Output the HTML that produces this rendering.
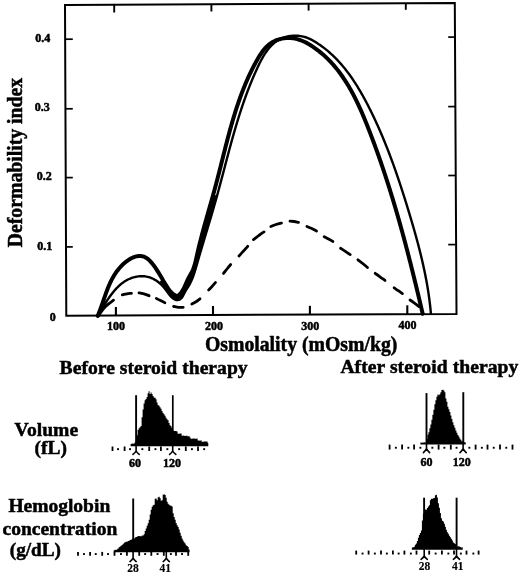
<!DOCTYPE html>
<html><head><meta charset="utf-8"><style>
html,body{margin:0;padding:0;background:#fff;}
body{width:520px;height:574px;overflow:hidden;}
svg{display:block;}
text{font-family:"Liberation Serif", serif;font-weight:bold;fill:#000;stroke:#000;stroke-width:0.5px;}
text.sm{stroke-width:0.15px;}
#wrap{will-change:transform;width:520px;height:574px;}
</style></head><body>
<div id="wrap"><svg width="520" height="574" viewBox="0 0 520 574">
<rect width="520" height="574" fill="#fff"/>
<path d="M65,4.9 L454.8,3 L456.5,313.9 L66.3,315.7 Z" fill="none" stroke="#000" stroke-width="2"/>
<line x1="114.2" y1="4.0" x2="114.2" y2="12.5" stroke="#000" stroke-width="1.9"/>
<line x1="211.4" y1="4.0" x2="211.4" y2="11.5" stroke="#000" stroke-width="1.9"/>
<line x1="308.6" y1="4.0" x2="308.6" y2="10.6" stroke="#000" stroke-width="1.9"/>
<line x1="405.8" y1="4.0" x2="405.8" y2="9.8" stroke="#000" stroke-width="1.9"/>
<line x1="115.9" y1="307.0" x2="115.9" y2="315.0" stroke="#000" stroke-width="2.1"/>
<line x1="213.0" y1="306.0" x2="213.0" y2="315.0" stroke="#000" stroke-width="2.1"/>
<line x1="309.9" y1="305.8" x2="309.9" y2="315.0" stroke="#000" stroke-width="2.1"/>
<line x1="407.3" y1="305.3" x2="407.3" y2="315.0" stroke="#000" stroke-width="2.1"/>
<line x1="65" y1="39.2" x2="72.8" y2="39.2" stroke="#000" stroke-width="1.7"/>
<line x1="65" y1="108.8" x2="72.8" y2="108.8" stroke="#000" stroke-width="1.7"/>
<line x1="65" y1="177.6" x2="72.8" y2="177.6" stroke="#000" stroke-width="1.7"/>
<line x1="65" y1="246.9" x2="72.8" y2="246.9" stroke="#000" stroke-width="1.7"/>
<line x1="448.2" y1="37.1" x2="455.5" y2="37.1" stroke="#000" stroke-width="1.7"/>
<line x1="448.2" y1="106.6" x2="455.5" y2="106.6" stroke="#000" stroke-width="1.7"/>
<line x1="448.2" y1="175.5" x2="455.5" y2="175.5" stroke="#000" stroke-width="1.7"/>
<line x1="448.2" y1="244.6" x2="455.5" y2="244.6" stroke="#000" stroke-width="1.7"/>
<path d="M97.91,315.66 L98.47,314.73 L99.03,313.78 L99.61,312.82 L100.19,311.84 L100.78,310.85 L101.37,309.84 L101.98,308.82 L102.59,307.79 L103.22,306.75 L103.85,305.71 L104.49,304.66 L105.15,303.60 L105.81,302.55 L106.48,301.49 L107.17,300.43 L107.87,299.38 L108.58,298.33 L109.30,297.29 L110.03,296.25 L110.78,295.23 L111.54,294.21 L112.32,293.20 L113.11,292.21 L113.91,291.24 L114.73,290.28 L115.57,289.34 L116.42,288.42 L117.28,287.52 L118.17,286.65 L119.07,285.80 L119.98,284.98 L120.92,284.18 L121.87,283.41 L122.84,282.68 L123.83,281.98 L124.84,281.31 L125.87,280.68 L126.92,280.08 L127.99,279.53 L129.07,279.01 L130.18,278.54 L131.29,278.10 L132.42,277.71 L133.56,277.36 L134.71,277.06 L135.87,276.80 L137.04,276.58 L138.21,276.41 L139.38,276.29 L140.55,276.22 L141.73,276.19 L142.90,276.22 L144.07,276.29 L145.23,276.41 L146.38,276.59 L147.53,276.82 L148.66,277.10 L149.79,277.44 L150.90,277.83 L151.99,278.28 L153.07,278.78 L154.13,279.34 L155.18,279.94 L156.20,280.59 L157.21,281.29 L158.19,282.03 L159.16,282.81 L160.10,283.62 L161.03,284.47 L161.93,285.35 L162.81,286.26 L163.66,287.20 L164.50,288.16 L165.30,289.14 L166.08,290.14 L166.84,291.16 L167.57,292.18 L168.30,293.20 L169.04,294.21 L169.79,295.19 L170.57,296.13 L171.39,297.02 L172.27,297.84 L173.22,298.58 L174.23,299.23 L175.31,299.72 L176.42,300.02 L177.54,300.09 L178.63,299.93 L179.66,299.56 L180.59,298.97 L181.42,298.18 L182.16,297.23 L182.84,296.17 L183.47,295.02 L184.07,293.83 L184.66,292.64 L185.26,291.48 L185.89,290.38 L186.53,289.33 L187.18,288.33 L187.82,287.33 L188.45,286.34 L189.05,285.34 L189.62,284.31 L190.17,283.27 L190.70,282.21 L191.21,281.14 L191.69,280.05 L192.15,278.95 L192.60,277.83 L193.03,276.71 L193.45,275.57 L193.85,274.42 L194.23,273.27 L194.61,272.10 L194.98,270.93 L195.34,269.76 L195.69,268.58 L196.04,267.39 L196.38,266.21 L196.72,265.02 L197.06,263.83 L197.40,262.64 L197.74,261.45 L198.08,260.26 L198.42,259.07 L198.77,257.89 L199.11,256.70 L199.45,255.52 L199.80,254.33 L200.15,253.15 L200.49,251.97 L200.84,250.79 L201.19,249.61 L201.54,248.43 L201.89,247.25 L202.24,246.07 L202.59,244.89 L202.94,243.71 L203.30,242.54 L203.65,241.36 L204.00,240.18 L204.35,239.01 L204.70,237.83 L205.06,236.66 L205.41,235.49 L205.76,234.31 L206.12,233.14 L206.47,231.97 L206.82,230.79 L207.17,229.62 L207.53,228.45 L207.88,227.28 L208.23,226.11 L208.58,224.93 L208.93,223.76 L209.28,222.59 L209.63,221.42 L209.98,220.25 L210.33,219.08 L210.67,217.91 L211.02,216.74 L211.37,215.57 L211.71,214.40 L212.06,213.23 L212.40,212.06 L212.74,210.89 L213.08,209.72 L213.42,208.55 L213.76,207.38 L214.10,206.21 L214.44,205.04 L214.77,203.86 L215.11,202.69 L215.44,201.52 L215.77,200.35 L216.10,199.18 L216.43,198.00 L216.75,196.83 L217.08,195.66 L217.40,194.48 L217.72,193.31 L218.05,192.14 L218.37,190.96 L218.68,189.79 L219.00,188.61 L219.32,187.44 L219.64,186.26 L219.95,185.09 L220.27,183.91 L220.58,182.74 L220.89,181.56 L221.21,180.39 L221.52,179.21 L221.83,178.04 L222.14,176.86 L222.45,175.68 L222.76,174.51 L223.07,173.33 L223.38,172.16 L223.69,170.98 L224.00,169.80 L224.31,168.63 L224.62,167.45 L224.93,166.28 L225.24,165.10 L225.55,163.92 L225.85,162.75 L226.17,161.57 L226.48,160.40 L226.79,159.22 L227.10,158.05 L227.41,156.87 L227.72,155.70 L228.03,154.52 L228.35,153.35 L228.66,152.17 L228.98,151.00 L229.29,149.82 L229.61,148.65 L229.93,147.47 L230.25,146.30 L230.57,145.13 L230.89,143.96 L231.21,142.78 L231.53,141.61 L231.86,140.44 L232.19,139.27 L232.51,138.09 L232.84,136.92 L233.17,135.75 L233.51,134.58 L233.84,133.41 L234.18,132.24 L234.51,131.07 L234.85,129.90 L235.19,128.74 L235.54,127.57 L235.88,126.40 L236.23,125.23 L236.58,124.07 L236.93,122.90 L237.28,121.74 L237.64,120.57 L238.00,119.41 L238.36,118.24 L238.72,117.08 L239.08,115.92 L239.45,114.75 L239.82,113.59 L240.20,112.43 L240.57,111.27 L240.95,110.11 L241.33,108.95 L241.72,107.79 L242.11,106.64 L242.50,105.48 L242.89,104.32 L243.29,103.17 L243.69,102.01 L244.09,100.86 L244.50,99.70 L244.91,98.55 L245.32,97.40 L245.74,96.25 L246.16,95.10 L246.58,93.95 L247.01,92.80 L247.44,91.65 L247.88,90.50 L248.31,89.36 L248.76,88.21 L249.20,87.07 L249.65,85.92 L250.11,84.78 L250.57,83.64 L251.03,82.50 L251.50,81.36 L251.97,80.22 L252.44,79.08 L252.92,77.94 L253.41,76.80 L253.90,75.67 L254.39,74.54 L254.89,73.40 L255.39,72.27 L255.90,71.14 L256.41,70.01 L256.93,68.88 L257.45,67.75 L257.98,66.63 L258.52,65.50 L259.06,64.38 L259.60,63.27 L260.16,62.17 L260.73,61.07 L261.30,59.98 L261.89,58.90 L262.49,57.83 L263.09,56.77 L263.71,55.72 L264.35,54.69 L265.00,53.68 L265.66,52.68 L266.34,51.70 L267.03,50.73 L267.74,49.79 L268.47,48.87 L269.21,47.97 L269.97,47.09 L270.76,46.23 L271.56,45.40 L272.38,44.60 L273.23,43.83 L274.09,43.08 L274.98,42.36 L275.90,41.67 L276.83,41.02 L277.80,40.40 L278.78,39.81 L279.80,39.25 L280.84,38.73 L281.90,38.25 L283.00,37.81 L284.12,37.41 L285.28,37.05 L286.46,36.72 L287.68,36.45 L288.92,36.21 L290.18,36.02 L291.46,35.87 L292.75,35.76 L294.06,35.70 L295.37,35.69 L296.68,35.72 L298.00,35.80 L299.30,35.92 L300.60,36.09 L301.88,36.31 L303.15,36.57 L304.40,36.88 L305.62,37.25 L306.81,37.66 L307.98,38.11 L309.12,38.60 L310.25,39.13 L311.35,39.68 L312.44,40.27 L313.51,40.88 L314.57,41.50 L315.62,42.14 L316.66,42.79 L317.68,43.46 L318.70,44.13 L319.71,44.81 L320.70,45.51 L321.69,46.22 L322.67,46.93 L323.63,47.66 L324.59,48.40 L325.54,49.15 L326.48,49.90 L327.41,50.67 L328.33,51.45 L329.24,52.23 L330.15,53.03 L331.04,53.83 L331.93,54.65 L332.80,55.47 L333.67,56.30 L334.53,57.14 L335.38,57.99 L336.22,58.85 L337.06,59.71 L337.89,60.59 L338.70,61.47 L339.51,62.36 L340.32,63.26 L341.11,64.16 L341.90,65.07 L342.68,65.99 L343.45,66.92 L344.22,67.85 L344.98,68.79 L345.73,69.74 L346.47,70.69 L347.21,71.65 L347.94,72.62 L348.66,73.59 L349.38,74.57 L350.09,75.55 L350.80,76.54 L351.49,77.54 L352.18,78.54 L352.87,79.54 L353.55,80.56 L354.22,81.57 L354.89,82.59 L355.55,83.62 L356.21,84.65 L356.86,85.68 L357.50,86.72 L358.14,87.77 L358.77,88.81 L359.40,89.86 L360.02,90.92 L360.64,91.98 L361.26,93.04 L361.86,94.10 L362.47,95.17 L363.07,96.24 L363.66,97.32 L364.25,98.39 L364.84,99.47 L365.42,100.55 L366.00,101.64 L366.57,102.72 L367.14,103.81 L367.71,104.90 L368.27,105.99 L368.82,107.09 L369.38,108.18 L369.93,109.28 L370.48,110.37 L371.02,111.47 L371.56,112.57 L372.10,113.67 L372.63,114.78 L373.16,115.88 L373.69,116.98 L374.21,118.09 L374.73,119.20 L375.25,120.31 L375.77,121.42 L376.28,122.53 L376.78,123.64 L377.29,124.75 L377.79,125.86 L378.29,126.98 L378.79,128.09 L379.28,129.21 L379.77,130.33 L380.26,131.45 L380.74,132.57 L381.22,133.69 L381.70,134.81 L382.18,135.94 L382.65,137.06 L383.12,138.18 L383.59,139.31 L384.05,140.44 L384.51,141.57 L384.97,142.70 L385.43,143.83 L385.88,144.96 L386.34,146.09 L386.79,147.22 L387.23,148.35 L387.68,149.49 L388.12,150.62 L388.56,151.76 L388.99,152.90 L389.43,154.04 L389.86,155.18 L390.29,156.32 L390.72,157.46 L391.15,158.60 L391.57,159.74 L391.99,160.88 L392.41,162.03 L392.83,163.17 L393.24,164.32 L393.66,165.46 L394.07,166.61 L394.47,167.76 L394.88,168.90 L395.29,170.05 L395.69,171.20 L396.09,172.35 L396.49,173.50 L396.89,174.66 L397.28,175.81 L397.68,176.96 L398.07,178.12 L398.46,179.27 L398.85,180.42 L399.24,181.58 L399.62,182.74 L400.01,183.89 L400.39,185.05 L400.77,186.21 L401.15,187.37 L401.53,188.53 L401.90,189.69 L402.28,190.85 L402.65,192.01 L403.02,193.17 L403.40,194.33 L403.76,195.49 L404.13,196.65 L404.50,197.82 L404.87,198.98 L405.23,200.14 L405.59,201.31 L405.96,202.47 L406.32,203.64 L406.68,204.80 L407.04,205.97 L407.39,207.14 L407.75,208.30 L408.11,209.47 L408.46,210.64 L408.82,211.81 L409.17,212.97 L409.52,214.14 L409.87,215.31 L410.23,216.48 L410.57,217.65 L410.92,218.82 L411.27,219.99 L411.62,221.16 L411.96,222.33 L412.30,223.51 L412.65,224.68 L412.99,225.85 L413.33,227.02 L413.66,228.20 L414.00,229.37 L414.33,230.54 L414.67,231.72 L415.00,232.89 L415.33,234.07 L415.66,235.24 L415.98,236.42 L416.31,237.60 L416.63,238.78 L416.95,239.95 L417.27,241.13 L417.58,242.31 L417.90,243.49 L418.21,244.67 L418.52,245.85 L418.82,247.03 L419.13,248.21 L419.43,249.40 L419.73,250.58 L420.03,251.76 L420.32,252.95 L420.62,254.13 L420.91,255.32 L421.20,256.50 L421.48,257.69 L421.76,258.87 L422.04,260.06 L422.32,261.25 L422.59,262.44 L422.86,263.63 L423.13,264.82 L423.39,266.01 L423.66,267.20 L423.91,268.39 L424.17,269.58 L424.42,270.78 L424.67,271.97 L424.92,273.17 L425.16,274.36 L425.40,275.56 L425.63,276.75 L425.86,277.95 L426.09,279.15 L426.32,280.35 L426.54,281.55 L426.76,282.75 L426.97,283.95 L427.18,285.15 L427.39,286.35 L427.59,287.56 L427.79,288.76 L427.98,289.97 L428.17,291.17 L428.36,292.38 L428.54,293.59 L428.72,294.80 L428.89,296.00 L429.06,297.21 L429.22,298.43 L429.39,299.64 L429.54,300.85 L429.69,302.06 L429.84,303.28 L429.98,304.49 L430.12,305.71 L430.26,306.92 L430.38,308.14 L430.51,309.36 L430.63,310.58 L430.74,311.80 L430.85,313.02" fill="none" stroke="#000" stroke-width="2.4" stroke-linejoin="round" stroke-linecap="round"/>
<path d="M97.73,315.88 L98.21,314.74 L98.68,313.60 L99.13,312.45 L99.58,311.30 L100.02,310.14 L100.45,308.98 L100.88,307.81 L101.30,306.64 L101.71,305.47 L102.12,304.29 L102.53,303.12 L102.93,301.94 L103.34,300.76 L103.74,299.58 L104.15,298.40 L104.55,297.22 L104.96,296.04 L105.38,294.86 L105.80,293.69 L106.22,292.51 L106.66,291.35 L107.10,290.18 L107.54,289.02 L108.00,287.86 L108.47,286.71 L108.96,285.57 L109.45,284.43 L109.96,283.30 L110.48,282.17 L111.02,281.06 L111.58,279.95 L112.15,278.85 L112.75,277.76 L113.36,276.68 L113.99,275.61 L114.65,274.55 L115.33,273.51 L116.03,272.47 L116.76,271.45 L117.51,270.44 L118.29,269.44 L119.10,268.46 L119.94,267.49 L120.80,266.54 L121.70,265.61 L122.62,264.69 L123.58,263.79 L124.56,262.93 L125.56,262.09 L126.58,261.29 L127.62,260.53 L128.67,259.81 L129.74,259.15 L130.83,258.53 L131.92,257.97 L133.02,257.47 L134.12,257.03 L135.23,256.67 L136.34,256.37 L137.45,256.16 L138.55,256.02 L139.65,255.97 L140.75,256.01 L141.83,256.14 L142.90,256.37 L143.95,256.71 L144.99,257.15 L146.01,257.70 L147.01,258.35 L147.99,259.10 L148.95,259.93 L149.89,260.84 L150.80,261.81 L151.70,262.83 L152.56,263.89 L153.40,264.98 L154.22,266.10 L155.01,267.22 L155.77,268.34 L156.50,269.46 L157.21,270.55 L157.89,271.62 L158.55,272.68 L159.19,273.73 L159.82,274.77 L160.43,275.80 L161.04,276.82 L161.64,277.84 L162.24,278.86 L162.84,279.89 L163.44,280.91 L164.05,281.94 L164.68,282.98 L165.31,284.03 L165.97,285.09 L166.64,286.17 L167.34,287.25 L168.07,288.32 L168.83,289.38 L169.62,290.42 L170.45,291.42 L171.33,292.37 L172.26,293.27 L173.24,294.10 L174.27,294.85 L175.33,295.45 L176.40,295.79 L177.45,295.78 L178.43,295.43 L179.34,294.77 L180.18,293.91 L180.95,292.97 L181.67,291.98 L182.35,290.93 L182.99,289.85 L183.59,288.73 L184.16,287.58 L184.70,286.42 L185.24,285.24 L185.76,284.05 L186.27,282.87 L186.79,281.69 L187.31,280.52 L187.85,279.38 L188.40,278.27 L188.98,277.19 L189.57,276.14 L190.17,275.10 L190.77,274.07 L191.35,273.03 L191.91,271.99 L192.44,270.92 L192.93,269.82 L193.38,268.69 L193.81,267.54 L194.20,266.37 L194.57,265.18 L194.91,263.97 L195.23,262.75 L195.54,261.51 L195.84,260.27 L196.13,259.02 L196.41,257.76 L196.68,256.51 L196.96,255.25 L197.24,254.00 L197.52,252.75 L197.81,251.50 L198.10,250.26 L198.39,249.01 L198.68,247.78 L198.98,246.54 L199.28,245.31 L199.58,244.08 L199.89,242.85 L200.19,241.63 L200.50,240.41 L200.82,239.19 L201.13,237.97 L201.45,236.75 L201.77,235.54 L202.09,234.33 L202.41,233.12 L202.73,231.91 L203.06,230.71 L203.38,229.50 L203.71,228.30 L204.04,227.10 L204.37,225.90 L204.70,224.71 L205.03,223.51 L205.37,222.31 L205.70,221.12 L206.04,219.93 L206.38,218.73 L206.71,217.54 L207.05,216.35 L207.39,215.16 L207.73,213.98 L208.06,212.79 L208.40,211.60 L208.74,210.41 L209.08,209.23 L209.42,208.04 L209.76,206.85 L210.10,205.67 L210.43,204.48 L210.77,203.29 L211.11,202.11 L211.44,200.92 L211.78,199.73 L212.11,198.55 L212.45,197.36 L212.78,196.17 L213.11,194.98 L213.44,193.79 L213.77,192.60 L214.10,191.41 L214.43,190.22 L214.75,189.02 L215.08,187.83 L215.40,186.64 L215.72,185.44 L216.04,184.24 L216.35,183.04 L216.67,181.84 L216.98,180.64 L217.30,179.44 L217.61,178.24 L217.92,177.03 L218.23,175.83 L218.54,174.62 L218.85,173.42 L219.15,172.21 L219.46,171.00 L219.77,169.80 L220.07,168.59 L220.38,167.38 L220.68,166.17 L220.99,164.96 L221.29,163.75 L221.59,162.54 L221.90,161.32 L222.20,160.11 L222.51,158.90 L222.81,157.69 L223.11,156.48 L223.42,155.26 L223.72,154.05 L224.03,152.84 L224.34,151.63 L224.64,150.41 L224.95,149.20 L225.26,147.99 L225.57,146.78 L225.88,145.57 L226.19,144.35 L226.51,143.14 L226.82,141.93 L227.14,140.72 L227.45,139.51 L227.77,138.30 L228.09,137.09 L228.41,135.88 L228.74,134.67 L229.06,133.47 L229.39,132.26 L229.72,131.05 L230.05,129.85 L230.38,128.64 L230.72,127.44 L231.06,126.23 L231.40,125.03 L231.74,123.83 L232.09,122.63 L232.43,121.43 L232.79,120.23 L233.14,119.04 L233.50,117.84 L233.86,116.65 L234.22,115.45 L234.58,114.26 L234.95,113.07 L235.33,111.88 L235.70,110.69 L236.08,109.50 L236.46,108.32 L236.85,107.14 L237.24,105.95 L237.64,104.77 L238.03,103.59 L238.44,102.42 L238.84,101.24 L239.25,100.07 L239.67,98.90 L240.08,97.73 L240.51,96.56 L240.93,95.39 L241.37,94.23 L241.80,93.07 L242.24,91.91 L242.69,90.75 L243.14,89.59 L243.60,88.44 L244.06,87.29 L244.52,86.14 L245.00,84.99 L245.47,83.85 L245.95,82.71 L246.44,81.57 L246.93,80.43 L247.43,79.30 L247.94,78.16 L248.45,77.04 L248.96,75.91 L249.48,74.78 L250.01,73.66 L250.54,72.55 L251.08,71.43 L251.63,70.32 L252.18,69.21 L252.74,68.10 L253.31,67.00 L253.88,65.90 L254.46,64.80 L255.04,63.70 L255.64,62.61 L256.23,61.52 L256.84,60.44 L257.45,59.36 L258.08,58.28 L258.71,57.21 L259.35,56.15 L260.01,55.10 L260.68,54.06 L261.37,53.04 L262.07,52.04 L262.80,51.05 L263.55,50.09 L264.32,49.15 L265.12,48.23 L265.95,47.34 L266.80,46.49 L267.68,45.66 L268.60,44.87 L269.55,44.11 L270.54,43.40 L271.56,42.72 L272.62,42.09 L273.72,41.49 L274.85,40.95 L276.01,40.44 L277.19,39.98 L278.40,39.57 L279.63,39.20 L280.87,38.88 L282.13,38.61 L283.40,38.38 L284.68,38.20 L285.96,38.08 L287.24,38.00 L288.51,37.97 L289.79,37.99 L291.05,38.07 L292.30,38.19 L293.54,38.36 L294.78,38.58 L296.00,38.85 L297.22,39.15 L298.42,39.50 L299.61,39.88 L300.79,40.30 L301.97,40.76 L303.13,41.25 L304.28,41.77 L305.42,42.32 L306.54,42.90 L307.66,43.50 L308.76,44.13 L309.86,44.78 L310.94,45.45 L312.01,46.13 L313.07,46.84 L314.11,47.55 L315.15,48.28 L316.17,49.02 L317.18,49.77 L318.18,50.54 L319.16,51.31 L320.13,52.09 L321.10,52.88 L322.05,53.68 L322.98,54.49 L323.91,55.31 L324.83,56.14 L325.73,56.98 L326.63,57.83 L327.51,58.68 L328.38,59.55 L329.24,60.42 L330.09,61.31 L330.94,62.20 L331.77,63.10 L332.59,64.00 L333.40,64.92 L334.20,65.84 L334.99,66.78 L335.77,67.71 L336.55,68.66 L337.31,69.62 L338.07,70.58 L338.81,71.55 L339.55,72.52 L340.28,73.50 L340.99,74.49 L341.71,75.49 L342.41,76.49 L343.10,77.50 L343.79,78.52 L344.47,79.54 L345.14,80.57 L345.80,81.60 L346.46,82.64 L347.11,83.69 L347.75,84.74 L348.38,85.79 L349.01,86.85 L349.63,87.92 L350.24,88.99 L350.85,90.07 L351.45,91.15 L352.04,92.23 L352.63,93.32 L353.21,94.42 L353.78,95.52 L354.35,96.62 L354.92,97.73 L355.47,98.84 L356.03,99.95 L356.57,101.07 L357.12,102.19 L357.65,103.32 L358.19,104.45 L358.71,105.58 L359.24,106.71 L359.75,107.85 L360.27,108.99 L360.78,110.14 L361.28,111.28 L361.79,112.43 L362.28,113.58 L362.78,114.73 L363.27,115.88 L363.75,117.04 L364.24,118.20 L364.72,119.36 L365.19,120.52 L365.67,121.68 L366.14,122.84 L366.61,124.01 L367.08,125.17 L367.54,126.34 L368.00,127.51 L368.46,128.67 L368.92,129.84 L369.37,131.01 L369.83,132.18 L370.28,133.35 L370.73,134.52 L371.17,135.69 L371.62,136.86 L372.06,138.03 L372.51,139.20 L372.95,140.37 L373.38,141.54 L373.82,142.71 L374.26,143.89 L374.69,145.06 L375.12,146.23 L375.55,147.40 L375.98,148.58 L376.40,149.75 L376.83,150.93 L377.25,152.10 L377.67,153.28 L378.09,154.45 L378.51,155.63 L378.92,156.80 L379.33,157.98 L379.75,159.16 L380.16,160.33 L380.57,161.51 L380.97,162.69 L381.38,163.87 L381.78,165.05 L382.18,166.23 L382.58,167.40 L382.98,168.58 L383.38,169.76 L383.78,170.94 L384.17,172.13 L384.56,173.31 L384.95,174.49 L385.34,175.67 L385.73,176.85 L386.12,178.03 L386.50,179.22 L386.89,180.40 L387.27,181.58 L387.65,182.77 L388.03,183.95 L388.41,185.14 L388.78,186.32 L389.16,187.51 L389.53,188.69 L389.90,189.88 L390.28,191.06 L390.64,192.25 L391.01,193.44 L391.38,194.62 L391.74,195.81 L392.11,197.00 L392.47,198.19 L392.83,199.37 L393.19,200.56 L393.55,201.75 L393.91,202.94 L394.26,204.13 L394.62,205.32 L394.97,206.51 L395.32,207.70 L395.68,208.89 L396.03,210.09 L396.37,211.28 L396.72,212.47 L397.07,213.66 L397.41,214.85 L397.76,216.05 L398.10,217.24 L398.44,218.44 L398.78,219.63 L399.12,220.82 L399.46,222.02 L399.79,223.21 L400.13,224.41 L400.47,225.60 L400.80,226.80 L401.13,228.00 L401.46,229.19 L401.79,230.39 L402.12,231.59 L402.45,232.78 L402.78,233.98 L403.11,235.18 L403.43,236.38 L403.76,237.58 L404.08,238.78 L404.40,239.98 L404.72,241.18 L405.04,242.38 L405.36,243.58 L405.68,244.78 L406.00,245.98 L406.32,247.18 L406.63,248.38 L406.95,249.58 L407.26,250.79 L407.58,251.99 L407.89,253.19 L408.20,254.40 L408.51,255.60 L408.82,256.80 L409.13,258.01 L409.44,259.21 L409.75,260.42 L410.06,261.62 L410.36,262.83 L410.67,264.03 L410.97,265.24 L411.28,266.44 L411.58,267.65 L411.88,268.86 L412.18,270.07 L412.48,271.27 L412.79,272.48 L413.09,273.69 L413.38,274.90 L413.68,276.11 L413.98,277.32 L414.28,278.52 L414.58,279.73 L414.87,280.94 L415.17,282.15 L415.46,283.37 L415.76,284.58 L416.05,285.79 L416.34,287.00 L416.64,288.21 L416.93,289.42 L417.22,290.64 L417.51,291.85 L417.80,293.06 L418.09,294.27 L418.38,295.49 L418.67,296.70 L418.96,297.92 L419.25,299.13 L419.53,300.34 L419.82,301.56 L420.11,302.77 L420.40,303.99 L420.68,305.21 L420.97,306.42 L421.25,307.64 L421.54,308.86 L421.82,310.07 L422.11,311.29 L422.39,312.51 L422.67,313.73" fill="none" stroke="#000" stroke-width="4.0" stroke-linejoin="round" stroke-linecap="round"/>
<path d="M161.53,281.88 L162.57,283.21 L163.78,284.76 L164.82,286.17 L166.03,287.80 L167.24,289.46 L168.46,291.11 L169.71,292.72 L171.19,294.42 L172.63,295.79 L174.59,297.19 L177.39,297.94 L180.42,296.33 L181.77,294.60 L182.85,292.88 L183.75,291.34 L184.73,289.57 L185.70,287.83 L186.64,286.09 L187.66,284.14 L188.63,282.16 L189.47,280.39 L190.39,278.41 L191.22,276.67 L192.03,274.94 L192.81,273.19 L193.54,271.42 L194.22,269.60 L194.84,267.74 L195.43,265.85 L195.97,263.93 L196.50,262.00 L197.00,260.05 L197.50,258.10 L198.07,255.91 L198.57,253.97 L199.07,252.02 L199.58,250.09 L200.10,248.15 L200.61,246.22 L201.14,244.30 L201.66,242.38 L202.26,240.23 L202.79,238.31 L203.33,236.40 L203.87,234.50 L204.41,232.60 L204.95,230.70 L205.49,228.80 L206.04,226.90 L206.58,225.01 L207.13,223.12 L207.68,221.23 L208.22,219.34 L208.77,217.45 L209.32,215.57 L209.93,213.45 L210.48,211.56 L211.02,209.68 L211.56,207.79 L212.10,205.91 L212.64,204.03 L213.18,202.14 L213.71,200.26 L214.24,198.37 L214.77,196.48" fill="none" stroke="#000" stroke-width="3.0" stroke-linejoin="round" stroke-linecap="round"/>
<path d="M98.5,315.5 C99.6,314.1 102.5,309.6 105.0,307.0 C107.5,304.4 112.1,301.3 113.5,300.2" fill="none" stroke="#000" stroke-width="2.8" stroke-linecap="round"/>
<path d="M122.3,294.8 C123.1,294.6 125.5,294.1 127.0,293.8 C128.5,293.6 130.8,293.4 131.5,293.3" fill="none" stroke="#000" stroke-width="2.8" stroke-linecap="round"/>
<path d="M139.0,292.9 C139.8,293.0 142.3,293.3 144.0,293.8 C145.7,294.3 148.2,295.4 149.1,295.7" fill="none" stroke="#000" stroke-width="2.8" stroke-linecap="round"/>
<path d="M156.3,298.4 C157.0,298.8 159.1,299.9 160.5,300.6 C161.9,301.3 164.2,302.4 164.9,302.7" fill="none" stroke="#000" stroke-width="2.8" stroke-linecap="round"/>
<path d="M173.6,306.5 C174.4,306.6 176.9,307.2 178.5,307.3 C180.1,307.4 182.4,307.3 183.2,307.3" fill="none" stroke="#000" stroke-width="2.8" stroke-linecap="round"/>
<path d="M191.8,304.1 C192.5,303.7 194.6,302.7 196.0,301.8 C197.4,300.9 199.3,299.3 200.0,298.8" fill="none" stroke="#000" stroke-width="2.8" stroke-linecap="round"/>
<path d="M208.6,290.1 C209.2,289.5 210.8,287.8 212.0,286.5 C213.2,285.2 214.9,283.2 215.5,282.6" fill="none" stroke="#000" stroke-width="2.8" stroke-linecap="round"/>
<path d="M223.5,273.4 C224.1,272.7 225.8,270.5 227.0,269.0 C228.2,267.5 230.1,265.2 230.7,264.5" fill="none" stroke="#000" stroke-width="2.8" stroke-linecap="round"/>
<path d="M239.0,256.0 C239.7,255.2 241.9,252.8 243.3,251.2 C244.8,249.6 247.0,247.1 247.7,246.3" fill="none" stroke="#000" stroke-width="2.8" stroke-linecap="round"/>
<path d="M253.5,239.6 C254.4,238.9 257.1,236.8 258.8,235.5 C260.6,234.2 263.1,232.5 264.0,231.9" fill="none" stroke="#000" stroke-width="2.8" stroke-linecap="round"/>
<path d="M270.8,226.5 C271.7,226.2 274.2,225.1 276.0,224.5 C277.8,223.9 280.6,223.3 281.5,223.1" fill="none" stroke="#000" stroke-width="2.8" stroke-linecap="round"/>
<path d="M290.0,221.2 C290.7,221.2 292.9,221.3 294.3,221.5 C295.7,221.7 297.8,222.2 298.5,222.3" fill="none" stroke="#000" stroke-width="2.8" stroke-linecap="round"/>
<path d="M306.9,226.5 C307.7,226.8 310.2,227.8 311.8,228.5 C313.4,229.2 315.7,230.6 316.5,231.0" fill="none" stroke="#000" stroke-width="2.8" stroke-linecap="round"/>
<path d="M324.2,236.7 C324.9,237.1 327.2,238.2 328.6,239.0 C330.1,239.8 332.2,241.1 332.9,241.5" fill="none" stroke="#000" stroke-width="2.8" stroke-linecap="round"/>
<path d="M340.6,248.3 C341.4,248.8 343.8,250.2 345.4,251.3 C347.0,252.4 349.4,254.1 350.2,254.6" fill="none" stroke="#000" stroke-width="2.8" stroke-linecap="round"/>
<path d="M357.9,259.8 C358.7,260.4 361.1,262.2 362.7,263.5 C364.3,264.8 366.7,266.8 367.5,267.5" fill="none" stroke="#000" stroke-width="2.8" stroke-linecap="round"/>
<path d="M375.2,273.3 C376.0,273.9 378.4,275.6 380.0,276.8 C381.6,278.0 384.2,279.8 385.0,280.4" fill="none" stroke="#000" stroke-width="2.8" stroke-linecap="round"/>
<path d="M394.1,287.8 C394.8,288.3 396.9,289.7 398.3,290.7 C399.7,291.7 401.7,293.1 402.4,293.6" fill="none" stroke="#000" stroke-width="2.8" stroke-linecap="round"/>
<path d="M410.0,300.0 C410.8,300.5 413.0,302.1 414.5,303.2 C416.0,304.3 418.2,305.9 419.0,306.5" fill="none" stroke="#000" stroke-width="2.8" stroke-linecap="round"/>
<path d="M130.60,446.20 L130.60,444.00 L131.60,444.00 L131.60,443.61 L132.60,443.61 L132.60,443.65 L133.60,443.65 L133.60,443.57 L134.60,443.57 L134.60,442.55 L135.60,442.55 L135.60,441.45 L136.60,441.45 L136.60,435.33 L137.60,435.33 L137.60,430.11 L138.60,430.11 L138.60,428.27 L139.60,428.27 L139.60,427.16 L140.60,427.16 L140.60,425.91 L141.60,425.91 L141.60,417.23 L142.60,417.23 L142.60,409.44 L143.60,409.44 L143.60,403.57 L144.60,403.57 L144.60,400.14 L145.60,400.14 L145.60,399.08 L146.60,399.08 L146.60,397.06 L147.60,397.06 L147.60,393.13 L148.60,393.13 L148.60,391.27 L149.60,391.27 L149.60,394.06 L150.60,394.06 L150.60,392.56 L151.60,392.56 L151.60,393.97 L152.60,393.97 L152.60,396.04 L153.60,396.04 L153.60,397.43 L154.60,397.43 L154.60,397.85 L155.60,397.85 L155.60,399.28 L156.60,399.28 L156.60,402.45 L157.60,402.45 L157.60,404.99 L158.60,404.99 L158.60,405.74 L159.60,405.74 L159.60,407.27 L160.60,407.27 L160.60,408.71 L161.60,408.71 L161.60,410.95 L162.60,410.95 L162.60,412.95 L163.60,412.95 L163.60,414.30 L164.60,414.30 L164.60,415.84 L165.60,415.84 L165.60,417.70 L166.60,417.70 L166.60,419.20 L167.60,419.20 L167.60,420.19 L168.60,420.19 L168.60,422.92 L169.60,422.92 L169.60,425.31 L170.60,425.31 L170.60,426.30 L171.60,426.30 L171.60,428.21 L172.60,428.21 L172.60,430.47 L173.60,430.47 L173.60,431.07 L174.60,431.07 L174.60,430.90 L175.60,430.90 L175.60,431.05 L176.60,431.05 L176.60,431.40 L177.60,431.40 L177.60,433.78 L178.60,433.78 L178.60,433.70 L179.60,433.70 L179.60,433.54 L180.60,433.54 L180.60,433.58 L181.60,433.58 L181.60,435.70 L182.60,435.70 L182.60,435.57 L183.60,435.57 L183.60,435.76 L184.60,435.76 L184.60,435.96 L185.60,435.96 L185.60,435.69 L186.60,435.69 L186.60,435.86 L187.60,435.86 L187.60,436.39 L188.60,436.39 L188.60,436.06 L189.60,436.06 L189.60,437.49 L190.60,437.49 L190.60,438.66 L191.60,438.66 L191.60,438.80 L192.60,438.80 L192.60,438.43 L193.60,438.43 L193.60,438.40 L194.60,438.40 L194.60,438.71 L195.60,438.71 L195.60,438.69 L196.60,438.69 L196.60,438.61 L197.60,438.61 L197.60,440.62 L198.60,440.62 L198.60,440.50 L199.60,440.50 L199.60,440.72 L200.60,440.72 L200.60,440.28 L201.60,440.28 L201.60,441.67 L202.60,441.67 L202.60,441.81 L203.60,441.81 L203.60,441.38 L204.60,441.38 L204.60,441.58 L205.60,441.58 L205.60,441.41 L206.60,441.41 L206.60,441.62 L207.60,441.62 L207.60,443.04 L208.30,443.04 L208.30,446.20 Z" fill="#000"/>
<line x1="136.1" y1="395.2" x2="136.1" y2="446.0" stroke="#000" stroke-width="1.9"/>
<line x1="172.8" y1="395.2" x2="172.8" y2="446.0" stroke="#000" stroke-width="1.7"/>
<line x1="112.5" y1="446.5" x2="112.5" y2="451.0" stroke="#000" stroke-width="1.8"/><line x1="124.6" y1="446.5" x2="124.6" y2="451.0" stroke="#000" stroke-width="1.8"/><line x1="149.2" y1="446.5" x2="149.2" y2="451.0" stroke="#000" stroke-width="1.8"/><line x1="160.9" y1="446.5" x2="160.9" y2="451.0" stroke="#000" stroke-width="1.8"/><line x1="185.8" y1="446.5" x2="185.8" y2="451.0" stroke="#000" stroke-width="1.8"/><line x1="198.0" y1="446.5" x2="198.0" y2="451.0" stroke="#000" stroke-width="1.8"/><rect x="117.1" y="448.2" width="1.9" height="1.9" fill="#000"/><rect x="129.1" y="448.2" width="1.9" height="1.9" fill="#000"/><rect x="141.4" y="448.2" width="1.9" height="1.9" fill="#000"/><rect x="154.5" y="448.2" width="1.9" height="1.9" fill="#000"/><rect x="166.4" y="448.2" width="1.9" height="1.9" fill="#000"/><rect x="178.2" y="448.2" width="1.9" height="1.9" fill="#000"/><rect x="191.0" y="448.2" width="1.9" height="1.9" fill="#000"/><rect x="203.2" y="448.2" width="1.9" height="1.9" fill="#000"/>
<path d="M136.1,446.0 L136.1,451.5 M136.1,451.0 Q135.3,452.7 133.0,454.4 M136.1,451.0 Q136.9,452.7 139.2,454.4" fill="none" stroke="#000" stroke-width="1.6" stroke-linecap="round"/>
<path d="M172.7,446.0 L172.7,451.5 M172.7,451.0 Q171.9,452.7 169.6,454.4 M172.7,451.0 Q173.5,452.7 175.8,454.4" fill="none" stroke="#000" stroke-width="1.6" stroke-linecap="round"/>
<path d="M420.40,444.50 L420.40,442.44 L421.40,442.44 L421.40,442.81 L422.40,442.81 L422.40,442.45 L423.40,442.45 L423.40,442.60 L424.40,442.60 L424.40,442.20 L425.40,442.20 L425.40,442.80 L426.40,442.80 L426.40,438.90 L427.40,438.90 L427.40,434.85 L428.40,434.85 L428.40,432.16 L429.40,432.16 L429.40,428.33 L430.40,428.33 L430.40,424.61 L431.40,424.61 L431.40,419.70 L432.40,419.70 L432.40,414.67 L433.40,414.67 L433.40,409.79 L434.40,409.79 L434.40,404.15 L435.40,404.15 L435.40,400.14 L436.40,400.14 L436.40,396.87 L437.40,396.87 L437.40,394.46 L438.40,394.46 L438.40,395.23 L439.40,395.23 L439.40,394.27 L440.40,394.27 L440.40,392.19 L441.40,392.19 L441.40,390.01 L442.40,390.01 L442.40,389.75 L443.40,389.75 L443.40,390.59 L444.40,390.59 L444.40,392.27 L445.40,392.27 L445.40,398.62 L446.40,398.62 L446.40,401.78 L447.40,401.78 L447.40,406.66 L448.40,406.66 L448.40,409.21 L449.40,409.21 L449.40,412.06 L450.40,412.06 L450.40,415.46 L451.40,415.46 L451.40,419.09 L452.40,419.09 L452.40,422.16 L453.40,422.16 L453.40,425.37 L454.40,425.37 L454.40,427.69 L455.40,427.69 L455.40,430.49 L456.40,430.49 L456.40,432.79 L457.40,432.79 L457.40,435.00 L458.40,435.00 L458.40,436.62 L459.40,436.62 L459.40,438.57 L460.40,438.57 L460.40,439.71 L461.40,439.71 L461.40,441.21 L462.40,441.21 L462.40,441.29 L463.40,441.29 L463.40,442.19 L464.40,442.19 L464.40,442.16 L465.40,442.16 L465.40,442.39 L465.70,442.39 L465.70,444.50 Z" fill="#000"/>
<line x1="426.5" y1="393.1" x2="426.5" y2="444.0" stroke="#000" stroke-width="1.9"/>
<line x1="463.3" y1="392.2" x2="463.3" y2="444.0" stroke="#000" stroke-width="1.9"/>
<line x1="389.6" y1="444.6" x2="389.6" y2="449.6" stroke="#000" stroke-width="1.8"/><line x1="402.1" y1="444.6" x2="402.1" y2="449.6" stroke="#000" stroke-width="1.8"/><line x1="414.1" y1="444.6" x2="414.1" y2="449.6" stroke="#000" stroke-width="1.8"/><line x1="438.6" y1="444.6" x2="438.6" y2="449.6" stroke="#000" stroke-width="1.8"/><line x1="450.8" y1="444.6" x2="450.8" y2="449.6" stroke="#000" stroke-width="1.8"/><line x1="475.6" y1="444.6" x2="475.6" y2="449.6" stroke="#000" stroke-width="1.8"/><line x1="487.5" y1="444.6" x2="487.5" y2="449.6" stroke="#000" stroke-width="1.8"/><line x1="500.0" y1="444.6" x2="500.0" y2="449.6" stroke="#000" stroke-width="1.8"/><line x1="512.5" y1="444.6" x2="512.5" y2="449.6" stroke="#000" stroke-width="1.8"/><rect x="394.9" y="446.8" width="1.9" height="1.9" fill="#000"/><rect x="407.4" y="446.8" width="1.9" height="1.9" fill="#000"/><rect x="419.4" y="446.8" width="1.9" height="1.9" fill="#000"/><rect x="431.4" y="446.8" width="1.9" height="1.9" fill="#000"/><rect x="443.4" y="446.8" width="1.9" height="1.9" fill="#000"/><rect x="455.6" y="446.8" width="1.9" height="1.9" fill="#000"/><rect x="468.4" y="446.8" width="1.9" height="1.9" fill="#000"/><rect x="480.9" y="446.8" width="1.9" height="1.9" fill="#000"/><rect x="492.8" y="446.8" width="1.9" height="1.9" fill="#000"/><rect x="505.3" y="446.8" width="1.9" height="1.9" fill="#000"/>
<path d="M426.5,444.0 L426.5,449.2 M426.5,448.7 Q425.7,450.4 423.4,452.6 M426.5,448.7 Q427.3,450.4 429.6,452.6" fill="none" stroke="#000" stroke-width="1.6" stroke-linecap="round"/>
<path d="M463.1,444.0 L463.1,449.2 M463.1,448.7 Q462.3,450.4 460.0,452.6 M463.1,448.7 Q463.9,450.4 466.2,452.6" fill="none" stroke="#000" stroke-width="1.6" stroke-linecap="round"/>
<path d="M113.70,552.30 L113.70,550.19 L114.70,550.19 L114.70,549.82 L115.70,549.82 L115.70,550.06 L116.70,550.06 L116.70,549.33 L117.70,549.33 L117.70,548.50 L118.70,548.50 L118.70,547.30 L119.70,547.30 L119.70,546.58 L120.70,546.58 L120.70,545.87 L121.70,545.87 L121.70,544.95 L122.70,544.95 L122.70,544.12 L123.70,544.12 L123.70,542.73 L124.70,542.73 L124.70,542.25 L125.70,542.25 L125.70,541.66 L126.70,541.66 L126.70,541.80 L127.70,541.80 L127.70,541.04 L128.70,541.04 L128.70,540.81 L129.70,540.81 L129.70,540.06 L130.70,540.06 L130.70,539.67 L131.70,539.67 L131.70,538.97 L132.70,538.97 L132.70,538.73 L133.70,538.73 L133.70,538.55 L134.70,538.55 L134.70,537.46 L135.70,537.46 L135.70,536.94 L136.70,536.94 L136.70,536.86 L137.70,536.86 L137.70,536.10 L138.70,536.10 L138.70,535.99 L139.70,535.99 L139.70,536.24 L140.70,536.24 L140.70,536.27 L141.70,536.27 L141.70,535.53 L142.70,535.53 L142.70,535.47 L143.70,535.47 L143.70,534.21 L144.70,534.21 L144.70,531.10 L145.70,531.10 L145.70,528.51 L146.70,528.51 L146.70,525.74 L147.70,525.74 L147.70,523.19 L148.70,523.19 L148.70,519.76 L149.70,519.76 L149.70,514.58 L150.70,514.58 L150.70,509.70 L151.70,509.70 L151.70,506.65 L152.70,506.65 L152.70,505.17 L153.70,505.17 L153.70,504.73 L154.70,504.73 L154.70,498.78 L155.70,498.78 L155.70,498.45 L156.70,498.45 L156.70,500.32 L157.70,500.32 L157.70,497.30 L158.70,497.30 L158.70,496.67 L159.70,496.67 L159.70,498.26 L160.70,498.26 L160.70,500.87 L161.70,500.87 L161.70,500.29 L162.70,500.29 L162.70,494.70 L163.70,494.70 L163.70,494.13 L164.70,494.13 L164.70,495.11 L165.70,495.11 L165.70,497.85 L166.70,497.85 L166.70,501.82 L167.70,501.82 L167.70,503.85 L168.70,503.85 L168.70,504.72 L169.70,504.72 L169.70,505.53 L170.70,505.53 L170.70,505.63 L171.70,505.63 L171.70,506.50 L172.70,506.50 L172.70,513.16 L173.70,513.16 L173.70,516.89 L174.70,516.89 L174.70,519.72 L175.70,519.72 L175.70,523.08 L176.70,523.08 L176.70,525.32 L177.70,525.32 L177.70,527.08 L178.70,527.08 L178.70,529.47 L179.70,529.47 L179.70,532.65 L180.70,532.65 L180.70,535.77 L181.70,535.77 L181.70,538.46 L182.70,538.46 L182.70,540.41 L183.70,540.41 L183.70,542.19 L184.70,542.19 L184.70,543.45 L185.70,543.45 L185.70,545.22 L186.70,545.22 L186.70,546.04 L187.70,546.04 L187.70,546.95 L188.70,546.95 L188.70,549.40 L189.60,549.40 L189.60,552.30 Z" fill="#000"/>
<line x1="133.2" y1="498.5" x2="133.2" y2="552.0" stroke="#000" stroke-width="1.9"/>
<line x1="78.0" y1="551.9" x2="78.0" y2="555.8" stroke="#000" stroke-width="1.8"/><line x1="90.1" y1="551.9" x2="90.1" y2="555.8" stroke="#000" stroke-width="1.8"/><line x1="102.2" y1="551.9" x2="102.2" y2="555.8" stroke="#000" stroke-width="1.8"/><line x1="114.5" y1="551.9" x2="114.5" y2="555.8" stroke="#000" stroke-width="1.8"/><line x1="126.9" y1="551.9" x2="126.9" y2="555.8" stroke="#000" stroke-width="1.8"/><line x1="139.2" y1="551.9" x2="139.2" y2="555.8" stroke="#000" stroke-width="1.8"/><line x1="151.3" y1="551.9" x2="151.3" y2="555.8" stroke="#000" stroke-width="1.8"/><line x1="163.8" y1="551.9" x2="163.8" y2="555.8" stroke="#000" stroke-width="1.8"/><line x1="176.0" y1="551.9" x2="176.0" y2="555.8" stroke="#000" stroke-width="1.8"/><line x1="188.2" y1="551.9" x2="188.2" y2="555.8" stroke="#000" stroke-width="1.8"/><rect x="83.0" y="553.1" width="1.9" height="1.9" fill="#000"/><rect x="94.8" y="553.1" width="1.9" height="1.9" fill="#000"/><rect x="107.1" y="553.1" width="1.9" height="1.9" fill="#000"/><rect x="120.0" y="553.1" width="1.9" height="1.9" fill="#000"/><rect x="144.2" y="553.1" width="1.9" height="1.9" fill="#000"/><rect x="156.6" y="553.1" width="1.9" height="1.9" fill="#000"/><rect x="169.9" y="553.1" width="1.9" height="1.9" fill="#000"/><rect x="181.1" y="553.1" width="1.9" height="1.9" fill="#000"/>
<path d="M133.1,552.0 L133.1,558.5 M133.1,558.0 Q132.3,559.7 130.0,561.6 M133.1,558.0 Q133.9,559.7 136.2,561.6" fill="none" stroke="#000" stroke-width="1.6" stroke-linecap="round"/>
<path d="M166.3,552.0 L166.3,558.5 M166.3,558.0 Q165.5,559.7 163.2,561.6 M166.3,558.0 Q167.1,559.7 169.4,561.6" fill="none" stroke="#000" stroke-width="1.6" stroke-linecap="round"/>
<path d="M411.90,549.80 L411.90,547.38 L412.90,547.38 L412.90,547.30 L413.90,547.30 L413.90,546.86 L414.90,546.86 L414.90,544.78 L415.90,544.78 L415.90,543.51 L416.90,543.51 L416.90,541.08 L417.90,541.08 L417.90,537.73 L418.90,537.73 L418.90,535.02 L419.90,535.02 L419.90,532.91 L420.90,532.91 L420.90,530.43 L421.90,530.43 L421.90,520.51 L422.90,520.51 L422.90,514.12 L423.90,514.12 L423.90,510.41 L424.90,510.41 L424.90,509.45 L425.90,509.45 L425.90,509.69 L426.90,509.69 L426.90,507.95 L427.90,507.95 L427.90,506.55 L428.90,506.55 L428.90,505.15 L429.90,505.15 L429.90,500.28 L430.90,500.28 L430.90,498.74 L431.90,498.74 L431.90,498.87 L432.90,498.87 L432.90,498.22 L433.90,498.22 L433.90,498.00 L434.90,498.00 L434.90,495.18 L435.90,495.18 L435.90,494.78 L436.90,494.78 L436.90,497.53 L437.90,497.53 L437.90,503.21 L438.90,503.21 L438.90,507.86 L439.90,507.86 L439.90,512.95 L440.90,512.95 L440.90,518.33 L441.90,518.33 L441.90,520.67 L442.90,520.67 L442.90,521.42 L443.90,521.42 L443.90,523.74 L444.90,523.74 L444.90,526.78 L445.90,526.78 L445.90,529.82 L446.90,529.82 L446.90,532.23 L447.90,532.23 L447.90,533.75 L448.90,533.75 L448.90,535.84 L449.90,535.84 L449.90,537.15 L450.90,537.15 L450.90,538.67 L451.90,538.67 L451.90,540.49 L452.90,540.49 L452.90,542.45 L453.90,542.45 L453.90,543.26 L454.90,543.26 L454.90,544.10 L455.90,544.10 L455.90,545.34 L456.90,545.34 L456.90,546.48 L457.90,546.48 L457.90,546.24 L458.90,546.24 L458.90,546.62 L459.90,546.62 L459.90,547.07 L460.90,547.07 L460.90,547.47 L461.90,547.47 L461.90,547.17 L462.70,547.17 L462.70,549.80 Z" fill="#000"/>
<line x1="424.1" y1="497.7" x2="424.1" y2="549.0" stroke="#000" stroke-width="1.9"/>
<line x1="456.6" y1="497.7" x2="456.6" y2="549.0" stroke="#000" stroke-width="1.9"/>
<line x1="356.2" y1="550.6" x2="356.2" y2="554.6" stroke="#000" stroke-width="1.8"/><line x1="368.6" y1="550.6" x2="368.6" y2="554.6" stroke="#000" stroke-width="1.8"/><line x1="381.0" y1="550.6" x2="381.0" y2="554.6" stroke="#000" stroke-width="1.8"/><line x1="392.9" y1="550.6" x2="392.9" y2="554.6" stroke="#000" stroke-width="1.8"/><line x1="404.4" y1="550.6" x2="404.4" y2="554.6" stroke="#000" stroke-width="1.8"/><line x1="416.5" y1="550.6" x2="416.5" y2="554.6" stroke="#000" stroke-width="1.8"/><line x1="429.2" y1="550.6" x2="429.2" y2="554.6" stroke="#000" stroke-width="1.8"/><line x1="441.9" y1="550.6" x2="441.9" y2="554.6" stroke="#000" stroke-width="1.8"/><line x1="454.0" y1="550.6" x2="454.0" y2="554.6" stroke="#000" stroke-width="1.8"/><line x1="466.5" y1="550.6" x2="466.5" y2="554.6" stroke="#000" stroke-width="1.8"/><line x1="478.6" y1="550.6" x2="478.6" y2="554.6" stroke="#000" stroke-width="1.8"/><rect x="361.6" y="552.6" width="1.9" height="1.9" fill="#000"/><rect x="373.9" y="552.6" width="1.9" height="1.9" fill="#000"/><rect x="385.9" y="552.6" width="1.9" height="1.9" fill="#000"/><rect x="397.7" y="552.6" width="1.9" height="1.9" fill="#000"/><rect x="409.9" y="552.6" width="1.9" height="1.9" fill="#000"/><rect x="434.7" y="552.6" width="1.9" height="1.9" fill="#000"/><rect x="447.4" y="552.6" width="1.9" height="1.9" fill="#000"/><rect x="459.9" y="552.6" width="1.9" height="1.9" fill="#000"/><rect x="472.4" y="552.6" width="1.9" height="1.9" fill="#000"/>
<path d="M424.2,549.0 L424.2,556.3 M424.2,555.8 Q423.4,557.5 421.1,559.3 M424.2,555.8 Q425.0,557.5 427.3,559.3" fill="none" stroke="#000" stroke-width="1.6" stroke-linecap="round"/>
<path d="M456.5,549.0 L456.5,556.3 M456.5,555.8 Q455.7,557.5 453.4,559.3 M456.5,555.8 Q457.3,557.5 459.6,559.3" fill="none" stroke="#000" stroke-width="1.6" stroke-linecap="round"/>
<text x="35.3" y="41.8" font-size="12.00" text-anchor="start">0.4</text>
<text x="34.8" y="110.9" font-size="12.00" text-anchor="start">0.3</text>
<text x="36.7" y="179.6" font-size="12.00" text-anchor="start">0.2</text>
<text x="37.2" y="249.8" font-size="12.00" text-anchor="start">0.1</text>
<text x="49.7" y="320.7" font-size="12.00" text-anchor="start">0</text>
<text x="107.0" y="329.8" font-size="12.00" text-anchor="start">100</text>
<text x="205.0" y="329.6" font-size="12.00" text-anchor="start">200</text>
<text x="301.2" y="329.6" font-size="12.00" text-anchor="start">300</text>
<text x="398.5" y="328.9" font-size="12.00" text-anchor="start">400</text>
<text x="204.9" y="351.0" font-size="20.70" text-anchor="start" textLength="192.5" lengthAdjust="spacingAndGlyphs">Osmolality (mOsm/kg)</text>
<text x="0" y="0" font-size="20.7" textLength="169.5" lengthAdjust="spacingAndGlyphs" transform="translate(21.8,247.3) rotate(-90)">Deformability index</text>
<text x="59.6" y="374.0" font-size="19.60" text-anchor="start" textLength="188" lengthAdjust="spacing">Before steroid therapy</text>
<text x="340.4" y="372.9" font-size="19.60" text-anchor="start" textLength="177.9" lengthAdjust="spacing">After steroid therapy</text>
<text x="14.6" y="435.8" font-size="19.60" text-anchor="start">Volume</text>
<text x="34.6" y="453.5" font-size="19.40" text-anchor="start">(fL)</text>
<text x="8.4" y="512.0" font-size="19.50" text-anchor="start">Hemoglobin</text>
<text x="2.5" y="535.3" font-size="19.50" text-anchor="start">concentration</text>
<text x="9.8" y="555.5" font-size="19.20" text-anchor="start">(g/dL)</text>
<text x="129.0" y="467.3" font-size="12.00" text-anchor="start">60</text>
<text x="163.1" y="467.3" font-size="12.00" text-anchor="start">120</text>
<text x="420.5" y="466.2" font-size="12.00" text-anchor="start">60</text>
<text x="452.8" y="466.2" font-size="12.00" text-anchor="start">120</text>
<text x="127.3" y="571.9" font-size="11.50" text-anchor="start" class="sm">28</text>
<text x="159.6" y="571.9" font-size="11.50" text-anchor="start" class="sm">41</text>
<text x="418.7" y="570.2" font-size="11.50" text-anchor="start" class="sm">28</text>
<text x="452.1" y="570.2" font-size="11.50" text-anchor="start" class="sm">41</text>
</svg></div>
</body></html>
